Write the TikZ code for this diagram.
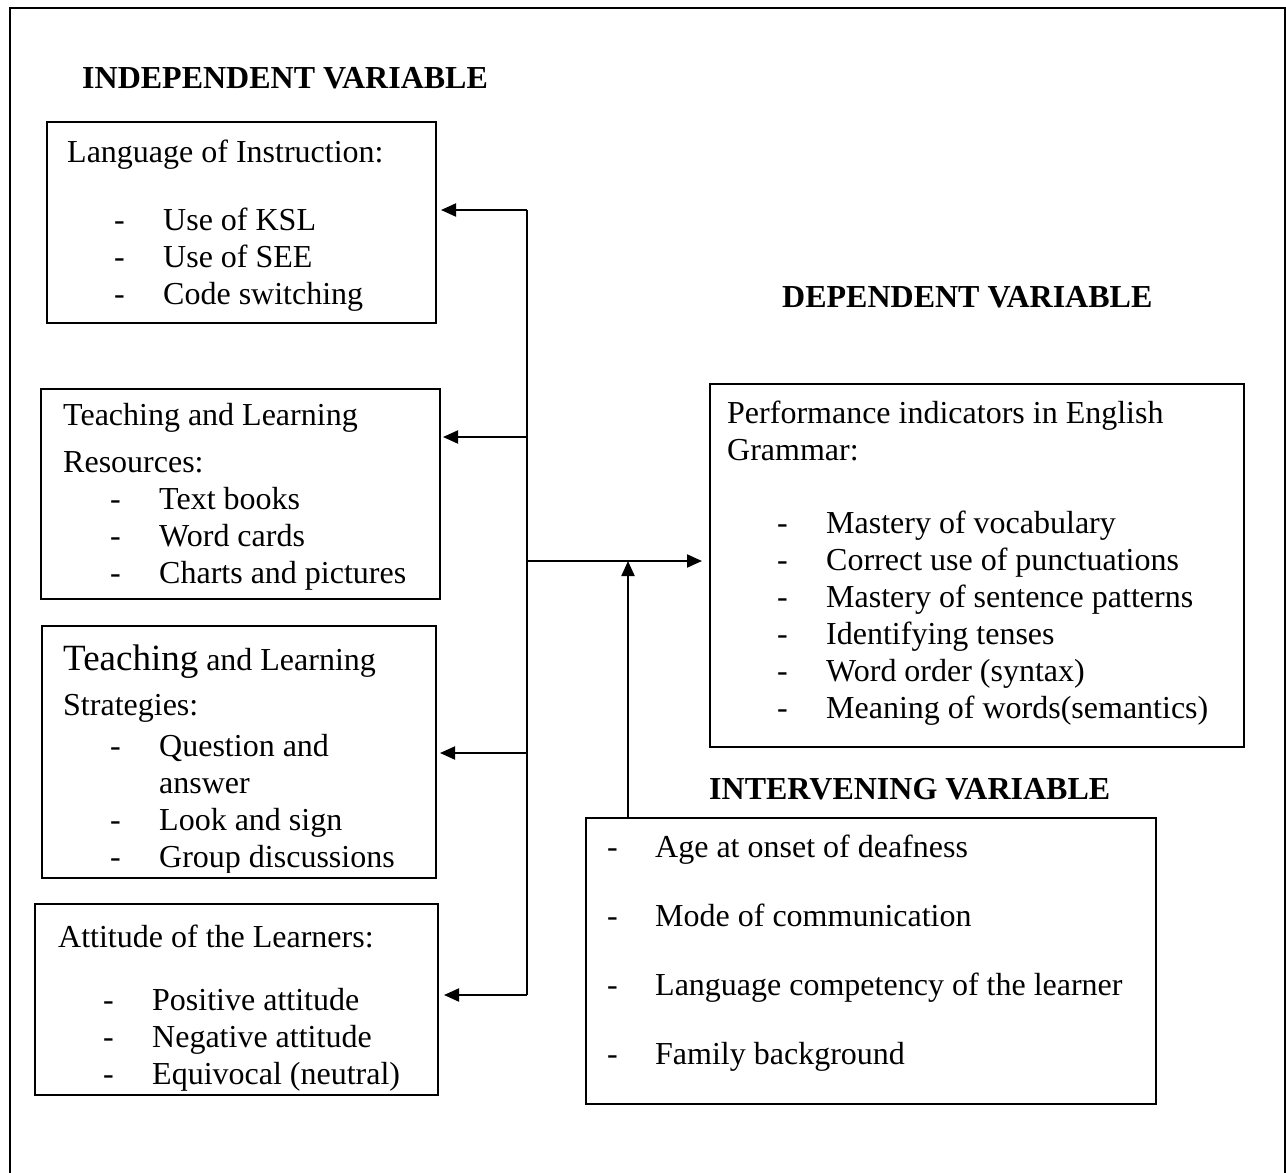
\documentclass[tikz,border=0pt]{standalone}
\usepackage{fontspec}
\setmainfont{Liberation Serif}
\usetikzlibrary{arrows.meta}
\begin{document}
\begin{tikzpicture}[x=1pt,y=-1pt,
  box/.style={draw,line width=2pt,inner sep=0pt,outer sep=0pt},
  txt/.style={anchor=base west,inner sep=0pt,font=\fontsize{32}{37}\selectfont},
  ttl/.style={anchor=base west,inner sep=0pt,font=\fontsize{32}{37}\selectfont\bfseries},
  conn/.style={line width=2pt,-{Triangle[length=15pt,width=13pt]}}]
\useasboundingbox (0,0) rectangle (1286,1173);
\begin{scope}
  \clip (0,0) rectangle (1286,1173);
  \draw[line width=2pt] (10,8) rectangle (1285,1200);
\end{scope}

% titles
\node[ttl] (tind) at (82,88) {INDEPENDENT VARIABLE};
\node[ttl] (tdep) at (782,307) {DEPENDENT VARIABLE};
\node[ttl] (tint) at (709,799) {INTERVENING VARIABLE};

% boxes
\node[box,minimum width=389pt,minimum height=201pt] (b1) at (241.5,222.5) {};
\node[box,minimum width=399pt,minimum height=210pt] (b2) at (240.5,494) {};
\node[box,minimum width=394pt,minimum height=252pt] (b3) at (239,752) {};
\node[box,minimum width=403pt,minimum height=191pt] (b4) at (236.5,999.5) {};
\node[box,minimum width=534pt,minimum height=363pt] (bd) at (977,565.5) {};
\node[box,minimum width=570pt,minimum height=286pt] (bi) at (871,961) {};

% box 1
\node[txt] (l1) at (67,162) {Language of Instruction:};
\node[txt] (l1a) at (114,230) {-};
\node[txt] (l1b) at (163,230) {Use of KSL};
\node[txt] (l1c) at (114,267) {-};
\node[txt] (l1d) at (163,267) {Use of SEE};
\node[txt] (l1e) at (114,304) {-};
\node[txt] (l1f) at (163,304) {Code switching};

% box 2
\node[txt] (l2) at (63,425) {Teaching and Learning};
\node[txt] (l2r) at (63,472) {Resources:};
\node[txt] (l2a) at (110,509) {-};
\node[txt] (l2b) at (159,509) {Text books};
\node[txt] (l2c) at (110,546) {-};
\node[txt] (l2d) at (159,546) {Word cards};
\node[txt] (l2e) at (110,583) {-};
\node[txt] (l2f) at (159,583) {Charts and pictures};

% box 3
\begin{scope}
  \clip (42,626) rectangle (436,872);
  \node[txt] (l3) at (63,670) {{\fontsize{37}{42}\selectfont Teaching} and Learning};
  \node[txt] (l3s) at (63,715) {Strategies:};
  \node[txt] (l3a) at (110,756) {-};
  \node[txt] (l3b) at (159,756) {Question and};
  \node[txt] (l3c) at (159,793) {answer};
  \node[txt] (l3d) at (110,830) {-};
  \node[txt] (l3e) at (159,830) {Look and sign};
  \node[txt] (l3f) at (110,867) {-};
  \node[txt] (l3g) at (159,867) {Group discussions};
\end{scope}

% box 4
\node[txt] (l4) at (58,947) {Attitude of the Learners:};
\node[txt] (l4a) at (103,1010) {-};
\node[txt] (l4b) at (152,1010) {Positive attitude};
\node[txt] (l4c) at (103,1047) {-};
\node[txt] (l4d) at (152,1047) {Negative attitude};
\node[txt] (l4e) at (103,1084) {-};
\node[txt] (l4f) at (152,1084) {Equivocal (neutral)};

% dependent box
\node[txt] (ld) at (727,423) {Performance indicators in English};
\node[txt] (ldg) at (727,460) {Grammar:};
\node[txt] (lda) at (777,533) {-};
\node[txt] (ldb) at (826,533) {Mastery of vocabulary};
\node[txt] (ldc) at (777,570) {-};
\node[txt] (ldd) at (826,570) {Correct use of punctuations};
\node[txt] (lde) at (777,607) {-};
\node[txt] (ldf) at (826,607) {Mastery of sentence patterns};
\node[txt] (ldg2) at (777,644) {-};
\node[txt] (ldh) at (826,644) {Identifying tenses};
\node[txt] (ldi) at (777,681) {-};
\node[txt] (ldj) at (826,681) {Word order (syntax)};
\node[txt] (ldk) at (777,718) {-};
\node[txt] (ldl) at (826,718) {Meaning of words(semantics)};

% intervening box
\node[txt] (lia) at (607,857) {-};
\node[txt] (lib) at (655,857) {Age at onset of deafness};
\node[txt] (lic) at (607,926) {-};
\node[txt] (lid) at (655,926) {Mode of communication};
\node[txt] (lie) at (607,995) {-};
\node[txt] (lif) at (655,995) {Language competency of the learner};
\node[txt] (lig) at (607,1064) {-};
\node[txt] (lih) at (655,1064) {Family background};

% connectors
\coordinate (t1) at (527,210);
\coordinate (t2) at (527,437);
\coordinate (t3) at (527,753);
\coordinate (t4) at (527,995);
\coordinate (tm) at (527,561);
\coordinate (ij) at (628,561);
\draw[line width=2pt] (t1) -- (t4);
\draw[conn,shorten >=5pt] (t1) -- (t1 -| b1.east);
\draw[conn,shorten >=3pt] (t2) -- (t2 -| b2.east);
\draw[conn,shorten >=4pt] (t3) -- (t3 -| b3.east);
\draw[conn,shorten >=6pt] (t4) -- (t4 -| b4.east);
\draw[conn,shorten >=8pt] (tm) -- (tm -| bd.west);
\draw[conn] (bi.north -| ij) -- (ij);
\end{tikzpicture}
\end{document}
